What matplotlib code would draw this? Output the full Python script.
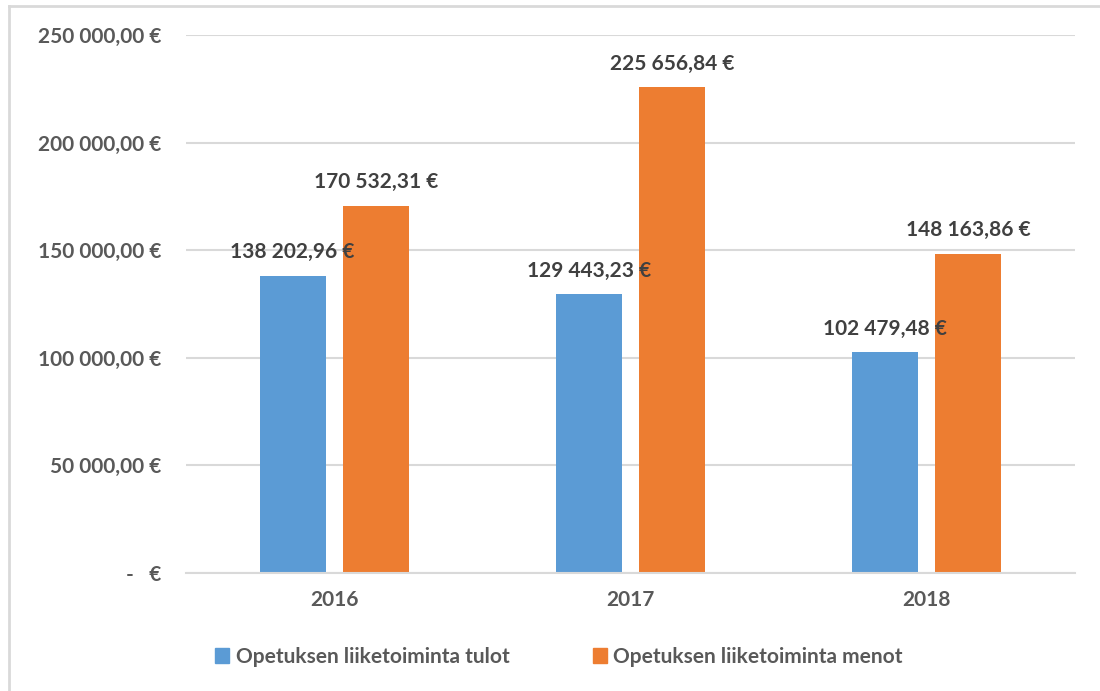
import matplotlib.pyplot as plt
from matplotlib.lines import Line2D
from matplotlib.patches import Patch
import numpy as np

years = ['2016', '2017', '2018']
tulot = [138202.96, 129443.23, 102479.48]
menot = [170532.31, 225656.84, 148163.86]
series_names = ['Opetuksen liiketoiminta tulot', 'Opetuksen liiketoiminta menot']
y_ticks = [0, 50000, 100000, 150000, 200000, 250000]

BLUE = '#5B9BD5'
ORANGE = '#ED7D31'
GRID = '#D9D9D9'


def fi_money(v):
    '''Format a value like Excel's Finnish accounting format.'''
    if v == 0:
        return '-   €'
    s = f'{v:,.2f}'.replace(',', ' ').replace('.', ',')
    return s + ' €'


plt.rcParams['font.family'] = ['Lato', 'DejaVu Sans']

fig = plt.figure(figsize=(11, 6.91), dpi=100)
ax = fig.add_axes([186 / 1100, 1 - 573 / 691, (1075 - 186) / 1100, (573 - 35) / 691])

x = np.arange(len(years))
width = 0.223
offset = 0.14
b1 = ax.bar(x - offset, tulot, width, color=BLUE, zorder=2)
b2 = ax.bar(x + offset, menot, width, color=ORANGE, zorder=2)

for bars, vals in ((b1, tulot), (b2, menot)):
    for bar, v in zip(bars, vals):
        ax.annotate(fi_money(v), (bar.get_x() + bar.get_width() / 2, v),
                    xytext=(0, 10), textcoords='offset points',
                    ha='center', va='bottom', fontsize=15, fontweight='bold',
                    color='#404040', zorder=3)

ax.set_xlim(-0.5, 2.5)
ax.set_ylim(0, 250000)
ax.set_yticks(y_ticks)
ax.set_yticklabels([fi_money(t) for t in y_ticks])
ax.set_xticks(x)
ax.set_xticklabels(years)
ax.yaxis.grid(True, color=GRID, linewidth=1.5, zorder=0)
ax.set_axisbelow(True)
for side in ('top', 'right', 'left'):
    ax.spines[side].set_visible(False)
ax.spines['bottom'].set_color(GRID)
ax.spines['bottom'].set_linewidth(1.5)
ax.tick_params(axis='both', length=0, labelsize=15, labelcolor='#595959')
ax.tick_params(axis='y', pad=18)
ax.tick_params(axis='x', pad=12)
for lbl in ax.get_xticklabels() + ax.get_yticklabels():
    lbl.set_fontweight('bold')

# chart frame like the Excel chart area
fig.add_artist(Line2D([9 / 1100, 9 / 1100], [0, 1 - 6 / 691], color=GRID, linewidth=2))
fig.add_artist(Line2D([9 / 1100, 1], [1 - 6 / 691, 1 - 6 / 691], color=GRID, linewidth=2))

handles = [Patch(color=BLUE), Patch(color=ORANGE)]
leg = fig.legend(handles, series_names, loc='center', bbox_to_anchor=(0.508, 1 - 657 / 691),
                 ncol=2, frameon=False, handlelength=0.7, handleheight=0.7,
                 handletextpad=0.3, columnspacing=4.0,
                 prop={'size': 15, 'weight': 'bold'})
for t in leg.get_texts():
    t.set_color('#595959')

fig.savefig('out.png', dpi=100)
